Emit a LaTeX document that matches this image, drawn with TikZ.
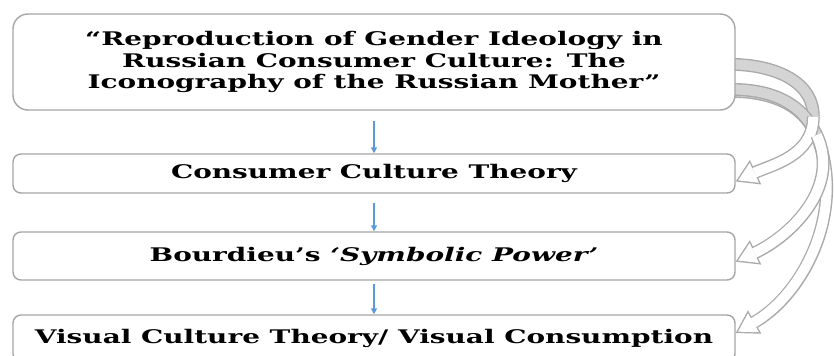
\documentclass[tikz,border=0pt]{standalone}
\usepackage{fontspec}
\setmainfont{DejaVu Serif}[FakeStretch=1.49]
\usetikzlibrary{arrows.meta}
\definecolor{boxgray}{RGB}{165,165,165}
\definecolor{rimgray}{RGB}{170,170,170}
\definecolor{bandgray}{RGB}{212,212,212}
\definecolor{flowblue}{RGB}{91,155,213}

\tikzset{
  box/.style={draw=boxgray, line width=1.2pt, fill=white, rounded corners=0.24cm,
    minimum width=21.66cm, align=center, inner sep=0pt,
    font=\fontsize{16}{18.5}\selectfont\bfseries},
  flow/.style={draw=flowblue, line width=1.3pt, -{Triangle[length=5pt,width=5pt]}},
  bandstart/.style={draw=bandgray, line width=8.6pt,
    preaction={draw=rimgray, line width=11pt}},
  bandhead/.style={draw=white, line width=8.6pt, shorten >=2.3pt,
    -{Triangle[length=15.2pt,width=18.7pt,line width=0pt]},
    preaction={draw=rimgray, line width=11pt, shorten >=0pt,
      -{Triangle[length=18.7pt,width=23pt,line width=0pt]}}}
}

\begin{document}
\begin{tikzpicture}
\useasboundingbox (0,0) rectangle (25.02,-10.68);

% curved feedback bands, drawn first so the boxes cover their ends
\coordinate (a0) at (21.9,-1.93);
\coordinate (a1) at (24.4,-3.5);
\coordinate (b0) at (21.9,-2.68);
\coordinate (b1) at (24.5,-4.05);
\coordinate (c0) at (21.9,-2.74);
\coordinate (c1) at (24.55,-4.2);

\draw[bandstart] (a0) to[out=0,in=90] (a1);
\draw[bandstart] (c0) to[out=0,in=110] (c1);
\draw[bandstart] (b0) to[out=0,in=115] (b1);

% boxes
\node[box, minimum height=2.88cm, rounded corners=0.45cm] (top) at (11.22,-1.86)
  {“Reproduction of Gender Ideology in\\ Russian Consumer Culture: The\\ Iconography of the Russian Mother”};
\node[box, minimum height=1.17cm] (cct) at (11.22,-5.205) {Consumer Culture Theory};
\node[box, minimum height=1.44cm] (bsp) at (11.22,-7.68) {Bourdieu’s \textit{‘Symbolic Power’}};
\node[box, minimum height=1.4cm] (vct) at (11.22,-10.15) {Visual Culture Theory/ Visual Consumption};

\draw[bandhead] (a1) to[out=-90,in=25] ([yshift=-0.24cm]cct.east);
\draw[bandhead] (c1) to[out=-70,in=30,looseness=0.95] ([yshift=0.16cm]vct.east);
\draw[bandhead] (b1) to[out=-65,in=25] ([yshift=-0.17cm]bsp.east);

% blue arrows between boxes
\draw[flow] ([yshift=-0.3cm]top.south) -- (cct.north);
\draw[flow] ([yshift=-0.27cm]cct.south) -- (bsp.north);
\draw[flow] ([yshift=-0.09cm]bsp.south) -- (vct.north);
\end{tikzpicture}
\end{document}
